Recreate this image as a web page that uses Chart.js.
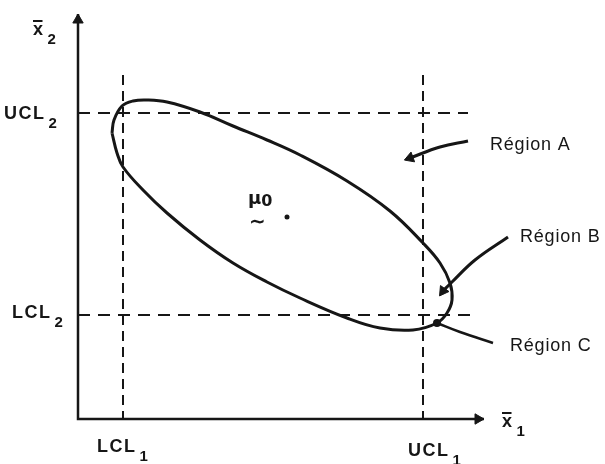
<!DOCTYPE html>
<html lang="fr">
<head>
<meta charset="UTF-8">
<title>Ellipse de contrôle</title>
<script src="https://cdn.jsdelivr.net/npm/chart.js@4.4.4/dist/chart.umd.min.js"></script>
<style>
  html, body { margin: 0; padding: 0; background: #fff; }
  #wrap { width: 605px; height: 464px; }
</style>
</head>
<body>
<div id="wrap"><canvas id="chart"></canvas></div>
<script>
// Limites de contrôle (unités des axes x̄1 / x̄2)
const lcl1 = 0.9, ucl1 = 6.9;
const lcl2 = 2.08, ucl2 = 6.12;
const limitTop = 6.88;            // haut des verticales pointillées
const ucl2End = 7.8, lcl2End = 7.88;
const axisEndX = 8.12, axisEndY = 8.1;

// Ellipse de contrôle
const ellipseX = [0.68, 0.72, 0.88, 1.10, 1.38, 1.78, 2.44, 3.10, 3.78, 4.44, 5.38, 6.24, 6.90, 7.24, 7.44,
                  7.48, 7.38, 7.18, 6.70, 6.04, 5.38, 4.44, 3.78, 3.10, 2.44, 1.78, 1.30, 0.90, 0.78, 0.68];
const ellipseY = [5.72, 5.98, 6.26, 6.36, 6.38, 6.34, 6.14, 5.86, 5.58, 5.28, 4.76, 4.16, 3.52, 3.12, 2.72,
                  2.38, 2.12, 1.92, 1.78, 1.82, 2.02, 2.42, 2.74, 3.12, 3.58, 4.12, 4.58, 5.04, 5.32, 5.72];

// Centre µ0
const mu0 = [4.18, 4.04];

// Flèches vers les régions
const arrowAX = [7.80, 7.24, 6.64];
const arrowAY = [5.56, 5.44, 5.22];
const arrowBX = [8.60, 7.94, 7.48, 7.30];
const arrowBY = [3.64, 3.18, 2.74, 2.56];
const curveCX = [7.18, 7.64, 8.30];
const curveCY = [1.92, 1.74, 1.52];

// Textes
const labels = [
  { text: 'UCL', sub: '2', x: -1.48, y: 6.00, kind: 'bold' },
  { text: 'LCL', sub: '2', x: -1.32, y: 2.02, kind: 'bold' },
  { text: 'LCL', sub: '1', x: 0.38, y: -0.66, kind: 'bold' },
  { text: 'UCL', sub: '1', x: 6.60, y: -0.74, kind: 'bold' },
  { text: 'x', sub: '2', x: -0.90, y: 7.68, kind: 'bold', bar: true },
  { text: 'x', sub: '1', x: 8.48, y: -0.16, kind: 'bold', bar: true },
  { text: 'Région A', x: 8.24, y: 5.38, kind: 'plain' },
  { text: 'Région B', x: 8.84, y: 3.54, kind: 'plain' },
  { text: 'Région C', x: 8.64, y: 1.36, kind: 'plain' },
  { text: 'μ', sub: '0', x: 3.40, y: 4.30, kind: 'mu' },
  { text: '∼', x: 3.42, y: 3.82, kind: 'tilde' }
];

const ink = '#161616';
const pts = (xs, ys) => xs.map((x, i) => ({ x: x, y: ys[i] }));

function line(data, opts) {
  return Object.assign({
    data: data, showLine: true, borderColor: ink, borderWidth: 2.5,
    pointRadius: 0, fill: false, tension: 0
  }, opts || {});
}

const datasets = [
  // axes
  line([{ x: 0, y: axisEndY }, { x: 0, y: 0 }, { x: axisEndX, y: 0 }], { borderWidth: 2.5 }),
  // limites
  line([{ x: lcl1, y: limitTop }, { x: lcl1, y: 0 }], { borderWidth: 2, borderDash: [10, 6] }),
  line([{ x: ucl1, y: limitTop }, { x: ucl1, y: 0 }], { borderWidth: 2, borderDash: [10, 6] }),
  line([{ x: 0, y: ucl2 }, { x: ucl2End, y: ucl2 }], { borderWidth: 2, borderDash: [12, 8] }),
  line([{ x: 0, y: lcl2 }, { x: lcl2End, y: lcl2 }], { borderWidth: 2, borderDash: [12, 8] }),
  // ellipse
  line(pts(ellipseX, ellipseY), { borderWidth: 3, tension: 0.4 }),
  // flèches
  line(pts(arrowAX, arrowAY), { borderWidth: 3, tension: 0.4 }),
  line(pts(arrowBX, arrowBY), { borderWidth: 3, tension: 0.4 }),
  line(pts(curveCX, curveCY), { borderWidth: 2.5, tension: 0.4 }),
  // pointes de flèches
  {
    data: [
      { x: 0, y: axisEndY - 0.12 },
      { x: axisEndX - 0.12, y: 0 },
      { x: arrowAX[2], y: arrowAY[2] },
      { x: arrowBX[3], y: arrowBY[3] }
    ],
    showLine: false, pointStyle: 'triangle', pointRadius: [6, 6, 6, 6],
    rotation: [0, 90, 250, 215], backgroundColor: ink, borderColor: ink, borderWidth: 1
  },
  // point µ0 et intersection
  {
    data: [{ x: mu0[0], y: mu0[1] }, { x: curveCX[0], y: curveCY[0] }],
    showLine: false, pointRadius: [2.5, 4], backgroundColor: ink, borderColor: ink, borderWidth: 0
  }
];

const textPlugin = {
  id: 'texts',
  afterDatasetsDraw(chart) {
    const c = chart.ctx, sx = chart.scales.x, sy = chart.scales.y;
    c.save();
    c.fillStyle = ink;
    c.strokeStyle = ink;
    c.textBaseline = 'alphabetic';
    labels.forEach(l => {
      const px = sx.getPixelForValue(l.x), py = sy.getPixelForValue(l.y);
      let mainFont, subFont, gap = 3, drop = 9, spacing = '0px';
      if (l.kind === 'bold') {
        mainFont = 'bold 18px "Liberation Sans", Arial, sans-serif';
        subFont = 'bold 15px "Liberation Sans", Arial, sans-serif';
        spacing = '1.5px';
      } else if (l.kind === 'mu') {
        mainFont = 'bold 18px "DejaVu Sans", sans-serif';
        subFont = 'bold 16px "DejaVu Sans", sans-serif';
        gap = 0; drop = 2;
      } else if (l.kind === 'tilde') {
        mainFont = 'bold 20px "DejaVu Sans", sans-serif';
      } else {
        mainFont = '18px "Liberation Sans", Arial, sans-serif';
        spacing = '0.8px';
      }
      c.letterSpacing = spacing;
      c.font = mainFont;
      c.fillText(l.text, px, py);
      const w = c.measureText(l.text).width;
      if (l.bar) {
        c.lineWidth = 2;
        c.beginPath();
        c.moveTo(px, py - 14);
        c.lineTo(px + w - 2, py - 14);
        c.stroke();
      }
      if (l.sub) {
        c.font = subFont;
        c.letterSpacing = '0px';
        c.fillText(l.sub, px + w + gap, py + drop);
      }
    });
    c.restore();
  }
};

new Chart(document.getElementById('chart'), {
  type: 'scatter',
  data: { datasets: datasets },
  options: {
    responsive: true,
    maintainAspectRatio: false,
    animation: false,
    layout: { padding: 0, autoPadding: false },
    plugins: { legend: { display: false }, tooltip: { enabled: false } },
    scales: {
      x: { type: 'linear', min: -1.56, max: 10.54, display: false },
      y: { type: 'linear', min: -0.9, max: 8.38, display: false }
    }
  },
  plugins: [textPlugin]
});
</script>
</body>
</html>
